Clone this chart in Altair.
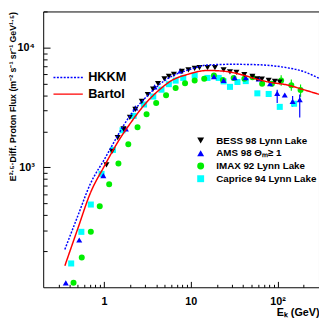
import altair as alt
import pandas as pd

# ---------------- data ----------------
bess_e = [1.07, 1.24, 1.44, 1.68, 1.99, 2.30, 2.73, 3.2, 3.68, 4.2, 4.97, 5.6, 6.4, 7.9, 9.4,
          11.1, 12.6, 15.6, 19.0, 23.9, 28.3, 33.6, 41.4, 51.3, 58, 66, 79, 93, 106]
bess_f = [1050, 1360, 1770, 2100, 2610, 3050, 3560, 4050, 4500, 5000, 5480, 5750, 5970, 6320, 6520,
          6690, 6810, 6810, 6810, 6520, 6270, 6200, 5940, 5760, 5480, 5450, 5320, 5220, 5160]

ams_e = [0.364, 0.52, 0.985, 1.79, 2.3, 3.84, 7.6, 18.5, 23.9, 32, 43, 60.7, 82, 99, 121, 149, 180]
ams_f = [109, 248, 855, 2100, 3140, 4700, 6400, 5720, 5320, 5600, 5600, 5490, 4990, 4150, 4020, 3560, 3670]
ams_err_e = [99, 149, 180]
ams_err_lo = [3450, 3200, 2610]
ams_err_hi = [4450, 3950, 4050]

imax_e = [0.447, 0.556, 0.707, 0.896, 1.15, 1.47, 1.91, 2.44, 3.1, 4.0, 5.2, 6.7, 8.6, 11.1, 14.3,
          18.5, 23.5, 31.2, 41.5, 51.5, 66.4, 86, 110, 144, 184]
imax_f = [109, 177, 290, 475, 724, 1080, 1560, 2160, 2780, 3440, 4000, 4600, 5030, 5320, 5490,
          5840, 5370, 5580, 5490, 5650, 4990, 4990, 5320, 4850, 4420]
imax_err_e = [110, 144, 184]
imax_err_lo = [4790, 4370, 3880]
imax_err_hi = [5870, 5410, 4920]

caprice_e = [0.42, 0.55, 0.707, 0.94, 1.27, 1.64, 2.2, 2.9, 3.7, 4.6, 5.6, 6.7, 8.2, 11.1, 15.6,
             21, 23.9, 28.3, 34.5, 43, 58.5, 79, 106, 155]
caprice_f = [158, 290, 490, 883, 1400, 2040, 2690, 3350, 3900, 4450, 4950, 5300, 5580, 5840, 5580,
             5580, 5220, 4700, 5160, 5250, 4150, 4100, 3200, 3400]

hkkm_e = [0.355, 0.5, 0.7, 1.0, 2.0, 3.1, 5.0, 10, 15.6, 30, 56, 111, 200, 300]
hkkm_f = [207, 393, 733, 1150, 2700, 3900, 5300, 6600, 7150, 7250, 7200, 6900, 6300, 5540]

bartol_e = [0.355, 0.5, 0.7, 1.0, 1.5, 2.03, 3.0, 4.36, 6.0, 9.35, 15.6, 24, 40, 56, 80, 130, 200, 300]
bartol_f = [151, 308, 614, 1010, 1700, 2350, 3400, 4450, 5300, 5990, 6440, 6350, 5900, 5480, 5150, 4870, 4450, 4070]

exp_names = ["BESS 98 Lynn Lake", "AMS 98 \u0398\u2098\u2265 1", "IMAX 92 Lynn Lake", "Caprice 94 Lynn Lake"]
exp_colors = ["#000000", "#0000ff", "#00ee00", "#00ffff"]
exp_shapes = ["triangle-down", "triangle-up", "circle", "square"]
model_names = ["HKKM", "Bartol"]
model_colors = ["#0000ff", "#ff0000"]

x_ticks = [0.3, 0.4, 0.5, 0.6, 0.7, 0.8, 0.9, 1, 2, 3, 4, 5, 6, 7, 8, 9,
           10, 20, 30, 40, 50, 60, 70, 80, 90, 100, 200]
y_ticks = [200, 300, 400, 500, 600, 700, 800, 900, 1000, 2000, 3000, 4000, 5000,
           6000, 7000, 8000, 9000, 10000, 20000]

# ---------------- tables ----------------
pts = pd.concat([
    pd.DataFrame({"E": caprice_e, "F": caprice_f, "exp": exp_names[3]}),
    pd.DataFrame({"E": imax_e, "F": imax_f, "exp": exp_names[2]}),
    pd.DataFrame({"E": ams_e, "F": ams_f, "exp": exp_names[1]}),
    pd.DataFrame({"E": bess_e, "F": bess_f, "exp": exp_names[0]}),
])
imax_err = pd.DataFrame({"E": imax_err_e, "lo": imax_err_lo, "hi": imax_err_hi})
ams_err = pd.DataFrame({"E": ams_err_e, "lo": ams_err_lo, "hi": ams_err_hi})
curves = pd.concat([
    pd.DataFrame({"E": hkkm_e, "F": hkkm_f, "model": model_names[0]}),
    pd.DataFrame({"E": bartol_e, "F": bartol_f, "model": model_names[1]}),
])

FONT = "Liberation Sans"
W, H = 282, 282
xscale = alt.Scale(type="log", domain=[0.2, 300], nice=False)
yscale = alt.Scale(type="log", domain=[100, 20000], nice=False)

x_axis = alt.Axis(
    values=x_ticks, domain=False, grid=False,
    tickColor="black", tickWidth=1,
    tickSize={"condition": {"test": "datum.value == 1 || datum.value == 10 || datum.value == 100", "value": -6}, "value": -3},
    labelPadding=15,
    labelExpr="datum.value == 1 ? '1' : datum.value == 10 ? '10' : datum.value == 100 ? '10\u00b2' : ''",
    labelFont=FONT, labelFontWeight="bold", labelFontSize=11, labelColor="black",
    title="E\u2096 (GeV)", titleFont=FONT, titleFontWeight="bold", titleFontSize=11,
    titleColor="black", titleAnchor="end", titleAlign="right", titleBaseline="alphabetic",
    titleX=W, titleY=29,
)
y_axis = alt.Axis(
    values=y_ticks, domain=False, grid=False,
    tickColor="black", tickWidth=1,
    tickSize={"condition": {"test": "datum.value == 1000 || datum.value == 10000", "value": -7}, "value": -4},
    labelPadding=16,
    labelExpr="datum.value == 1000 ? '10\u00b3' : datum.value == 10000 ? '10\u2074' : ''",
    labelFont=FONT, labelFontWeight="bold", labelFontSize=11, labelColor="black",
    title="E\u00b2\u00b7\u2075\u00b7Diff. Proton Flux (m\u207b\u00b2 s\u207b\u00b9 sr\u207b\u00b9 GeV\u00b9\u00b7\u2075)",
    titleFont=FONT, titleFontWeight="bold", titleFontSize=9, titleColor="black",
    titleAngle=-90, titleAlign="right", titleBaseline="middle", titleAnchor="end",
    titleX=-31, titleY=0,
)

pt_legend = alt.Legend(title=None, orient="none", legendX=W - 126, legendY=127,
                       padding=0, rowPadding=3, symbolSize=50, symbolStrokeWidth=0,
                       labelOffset=11, labelFont=FONT, labelFontWeight="bold",
                       labelFontSize=10, labelColor="black", labelLimit=300)
line_legend = alt.Legend(title=None, orient="none", legendX=19, legendY=61,
                         padding=0, rowPadding=3, symbolType="M-3,0H3", symbolSize=100,
                         symbolStrokeWidth=1.5, labelOffset=14, labelFont=FONT,
                         labelFontWeight="bold", labelFontSize=13, labelColor="black")

imax_err_layer = alt.Chart(imax_err).mark_rule(strokeWidth=1.2, color="#00ee00").encode(
    x=alt.X("E:Q", scale=xscale, axis=x_axis),
    y=alt.Y("lo:Q", scale=yscale, axis=y_axis),
    y2="hi:Q",
)
ams_err_layer = alt.Chart(ams_err).mark_rule(strokeWidth=1.2, color="#0000ff").encode(
    x=alt.X("E:Q", scale=xscale),
    y=alt.Y("lo:Q", scale=yscale),
    y2="hi:Q",
)

pt_layer = alt.Chart(pts).mark_point(filled=True, size=38, opacity=1, strokeWidth=0).encode(
    x=alt.X("E:Q", scale=xscale),
    y=alt.Y("F:Q", scale=yscale),
    fill=alt.Fill("exp:N", scale=alt.Scale(domain=exp_names, range=exp_colors), legend=pt_legend),
    shape=alt.Shape("exp:N", scale=alt.Scale(domain=exp_names, range=exp_shapes), legend=pt_legend),
)

line_layer = alt.Chart(curves).mark_line(strokeWidth=1.5, interpolate="monotone").encode(
    x=alt.X("E:Q", scale=xscale),
    y=alt.Y("F:Q", scale=yscale),
    stroke=alt.Stroke("model:N", scale=alt.Scale(domain=model_names, range=model_colors), legend=line_legend),
    strokeDash=alt.StrokeDash("model:N", scale=alt.Scale(domain=model_names, range=[[2, 1.5], [1, 0]]),
                              legend=line_legend),
)

chart = alt.layer(imax_err_layer, ams_err_layer, pt_layer, line_layer).properties(
    width=W, height=H,
    autosize=alt.AutoSizeParams(type="none"),
    padding={"left": 36, "top": 0, "right": 0, "bottom": 34},
    background="white",
).configure_view(stroke="black", strokeWidth=1)

chart.save("out.html", embed_options={"renderer": "svg", "actions": False})
